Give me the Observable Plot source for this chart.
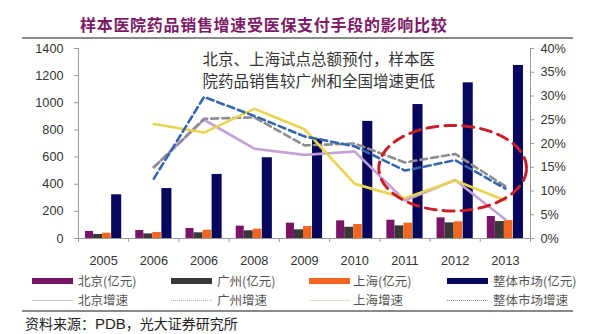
<!DOCTYPE html>
<html>
<head>
<meta charset="utf-8">
<script src="https://cdn.jsdelivr.net/npm/d3@7"></script>
<script src="https://cdn.jsdelivr.net/npm/@observablehq/plot@0.6"></script>
<style>
  body { margin: 0; background: #fff; }
  #wrap { position: relative; width: 600px; height: 334px; overflow: hidden; background: #fff;
          font-family: "Noto Sans CJK SC", sans-serif; }
  #title { position: absolute; left: 80px; top: 12px; font-size: 16px; font-weight: 700;
           color: #7d1a68; letter-spacing: 0.7px; line-height: 24px; white-space: nowrap; }
  .sep { position: absolute; left: 22px; width: 551px; height: 2px; background: #8a8a8a; }
  #chart { position: absolute; left: 0; top: 40px; }
  .sw { position: absolute; }
  .lt { position: absolute; font-size: 12.5px; color: #555; line-height: 16px; white-space: nowrap; }
  #source { position: absolute; left: 25px; top: 313px; font-size: 14px; color: #222; line-height: 20px; white-space: nowrap; }
  #source b { font-family: "Liberation Sans", Arial, sans-serif; font-weight: 400; font-size: 15px; }
</style>
</head>
<body>
<div id="wrap">
  <div id="title">样本医院药品销售增速受医保支付手段的影响比较</div>
  <div class="sep" style="top:37px"></div>
  <div id="chart"></div>
  <div id="legend"></div>
  <div class="sep" style="top:310px"></div>
  <div id="source">资料来源：<b>PDB</b>，光大证券研究所</div>
</div>
<script>
// ---- data ----
const years = [2005, 2006, 2007, 2008, 2009, 2010, 2011, 2012, 2013];
const tickLabels = ["2005", "2006", "2006", "2008", "2009", "2010", "2011", "2012", "2013"];

// sales (亿元), left axis
const beijing   = [52, 59, 74, 91, 113, 130, 135, 152, 162];
const guangzhou = [30, 34, 42, 57, 64, 83, 93, 115, 125];
const shanghai  = [39, 44, 61, 69, 88, 103, 113, 123, 132];
const total     = [322, 368, 472, 595, 733, 863, 987, 1147, 1275];

// growth (%), right axis
const beijingG   = [null, 15.0, 25.0, 18.9, 17.6, 18.3, 8.0, 12.3, 4.0];
const guangzhouG = [null, 15.0, 25.2, 25.5, 19.6, 20.0, 16.0, 17.8, 11.0];
const shanghaiG  = [null, 24.1, 22.3, 27.3, 23.0, 11.5, 8.5, 12.2, 8.0];
const totalG     = [null, 12.6, 29.8, 25.8, 21.5, 19.4, 14.3, 16.5, 10.5];

const leftTicks = [0, 200, 400, 600, 800, 1000, 1200, 1400];
const rightTicks = [0, 5, 10, 15, 20, 25, 30, 35, 40];

const annotation = "北京、上海试点总额预付，样本医\n院药品销售较广州和全国增速更低";
// highlighted region (data units: year, %)
const highlight = { cx: 2011.95, cy: 14.8, rx: 1.47, ry: 9.0 };

// ---- series config ----
const barSeries = [
  { name: "北京(亿元)",     values: beijing,   color: "#7a1467", off: [-0.36, -0.20] },
  { name: "广州(亿元)",     values: guangzhou, color: "#383838", off: [-0.20, -0.02] },
  { name: "上海(亿元)",     values: shanghai,  color: "#f2661f", off: [-0.02, 0.15] },
  { name: "整体市场(亿元)", values: total,     color: "#07075e", off: [0.16, 0.36] }
];
const lineSeries = [
  { name: "北京增速",     values: beijingG,   color: "#c4a0d8", dash: null,  legend: "#c8c8c8", legendDash: "none" },
  { name: "广州增速",     values: guangzhouG, color: "#8e8e8e", dash: "7,4", legend: "#b0b0b0", legendDash: "2,2" },
  { name: "上海增速",     values: shanghaiG,  color: "#e9d34f", dash: null,  legend: "#dfe3b8", legendDash: "none" },
  { name: "整体市场增速", values: totalG,     color: "#3566b0", dash: "7,4", legend: "#8088a0", legendDash: "2,2" }
];

const k = 1400 / 40; // right-axis % -> left-axis units
const xDomain = [years[0] - 0.5, years[years.length - 1] + 0.5];
const boundaries = d3.range(years.length + 1).map(i => xDomain[0] + i);

const marks = [];
marks.push(Plot.ruleY([0], { stroke: "#9a9a9a" }));
marks.push(Plot.ruleX([xDomain[0]], { stroke: "#9a9a9a" }));
marks.push(Plot.ruleX([xDomain[1]], { stroke: "#9a9a9a" }));
marks.push(Plot.axisY({ anchor: "left", ticks: leftTicks, tickFormat: d => String(d), tickSize: 4, tickPadding: 11,
  label: null, stroke: "#9a9a9a", fill: "#333" }));
marks.push(Plot.axisY({ anchor: "right", ticks: rightTicks.map(p => p * k), tickFormat: d => Math.round(d / k) + "%",
  tickSize: 3, tickPadding: 7, label: null, stroke: "#9a9a9a", fill: "#333" }));
marks.push(Plot.axisX({ ticks: boundaries, tickSize: 4, tickFormat: () => "", label: null, stroke: "#9a9a9a" }));
marks.push(Plot.axisX({ ticks: years, tickSize: 0, tickPadding: 17, label: null, fill: "#333",
  tickFormat: d => tickLabels[years.indexOf(d)] }));

for (const s of barSeries) {
  const rows = years.map((y, i) => ({ year: y, value: s.values[i] }));
  marks.push(Plot.rectY(rows, { x1: d => d.year + s.off[0], x2: d => d.year + s.off[1], y1: 0, y2: "value", fill: s.color }));
}
for (const s of lineSeries) {
  const rows = years.map((y, i) => ({ year: y, value: s.values[i] })).filter(d => d.value != null);
  marks.push(Plot.line(rows, { x: "year", y: d => d.value * k, stroke: s.color, strokeWidth: 2.6,
    strokeDasharray: s.dash, strokeLinejoin: "round" }));
}
const ellipsePts = d3.range(0, 361, 3).map(a => {
  const t = a * Math.PI / 180;
  return { x: highlight.cx + highlight.rx * Math.cos(t), y: (highlight.cy + highlight.ry * Math.sin(t)) * k };
});
marks.push(Plot.line(ellipsePts, { x: "x", y: "y", stroke: "#c8202a", strokeWidth: 3, strokeDasharray: "11,7", curve: "linear" }));
marks.push(Plot.text([annotation], { frameAnchor: "top-left", dx: 124, dy: 20.5, text: d => d,
  textAnchor: "start", lineAnchor: "middle", lineHeight: 1.42, fontSize: 15.5, fill: "#333",
  fontFamily: "Noto Sans CJK SC" }));

const chart = Plot.plot({
  width: 600, height: 228,
  marginLeft: 78, marginRight: 70, marginTop: 8, marginBottom: 30,
  x: { type: "linear", domain: xDomain },
  y: { domain: [0, 1400] },
  style: { fontFamily: "'Liberation Sans', Arial, sans-serif", fontSize: "12.7px", background: "transparent", overflow: "visible" },
  marks
});
document.getElementById("chart").appendChild(chart);

// ---- legend ----
const legend = document.getElementById("legend");
const colSwatch = [32, 171, 309, 447];
const colText = [78, 217, 353, 493];
barSeries.forEach((s, i) => {
  const sw = document.createElement("div");
  sw.className = "sw";
  sw.style.cssText = `left:${colSwatch[i]}px;top:278px;width:41px;height:6px;background:${s.color}`;
  legend.appendChild(sw);
  const t = document.createElement("div");
  t.className = "lt"; t.textContent = s.name;
  t.style.cssText = `left:${colText[i]}px;top:273px`;
  legend.appendChild(t);
});
lineSeries.forEach((s, i) => {
  const sw = document.createElement("div");
  sw.className = "sw";
  const style = s.legendDash === "none" ? "solid" : "dotted";
  sw.style.cssText = `left:${colSwatch[i]}px;top:300px;width:41px;height:0;border-top:1px ${style} ${s.legend}`;
  legend.appendChild(sw);
  const t = document.createElement("div");
  t.className = "lt"; t.textContent = s.name;
  t.style.cssText = `left:${colText[i]}px;top:292px`;
  legend.appendChild(t);
});
</script>
</body>
</html>
